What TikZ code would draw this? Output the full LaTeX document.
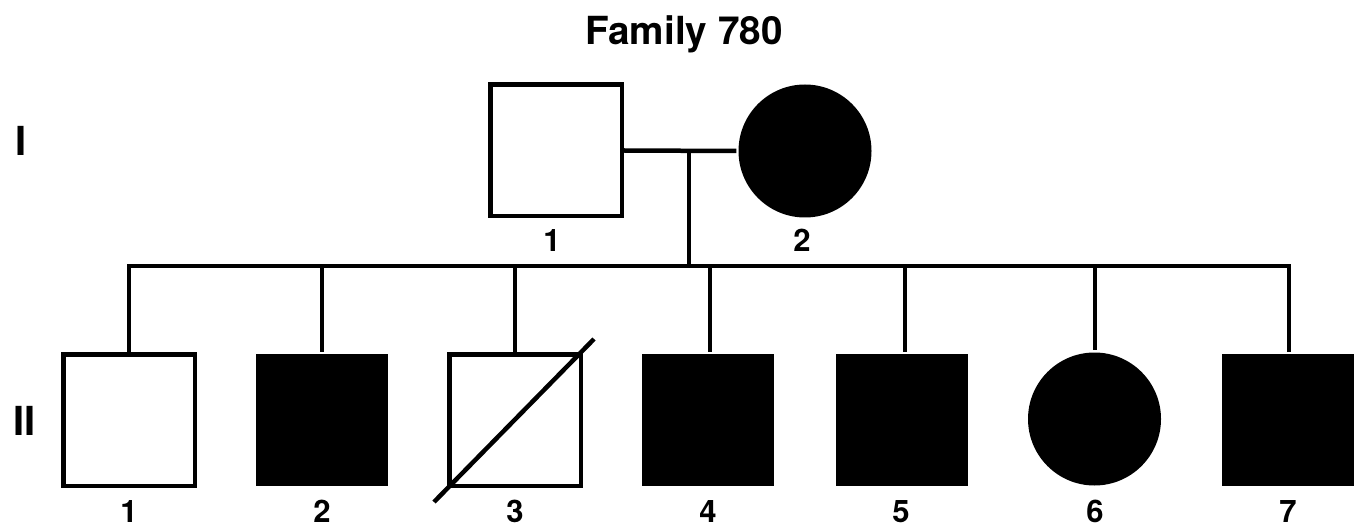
\documentclass[tikz,border=0pt]{standalone}
\usepackage{fontspec}
\setmainfont{TeX Gyre Heros}
\begin{document}
\begin{tikzpicture}[x=1pt,y=-1pt,
  line width=4.5pt,
  male/.style={draw=black,fill=white,rectangle,minimum size=131.5pt,inner sep=0pt,line width=4.5pt},
  maleaff/.style={fill=black,rectangle,minimum size=132pt,inner sep=0pt},
  femaleaff/.style={fill=black,circle,minimum size=133pt,inner sep=0pt},
  lbl/.style={anchor=base,inner sep=0pt,font=\fontsize{31}{31}\selectfont\bfseries},
  gen/.style={anchor=base,inner sep=0pt,font=\fontsize{40}{40}\selectfont\bfseries},
  ttl/.style={anchor=base,inner sep=0pt,font=\fontsize{38.7}{38.7}\selectfont\bfseries}]
\useasboundingbox (0,0) rectangle (1360,529);
\fill[white] (0,0) rectangle (1360,529);

\node[ttl] (title) at (684,45) {Family 780};
\node[gen] (genI) at (21,156) {I};
\node[gen] (genII) at (25,435) {II};

% Generation I
\node[male] (I1) at (556,150.5) {};
\node[femaleaff] (I2) at (805,151) {};
\node[lbl] (lI1) at (552,252) {1};
\node[lbl] (lI2) at (802,252) {2};
\draw (I1.east) -- (I2.west);
\coordinate (mate) at (689,151);
\coordinate (sib) at (689,266);
\draw (mate) -- (sib);

% sibship line
\coordinate (sibL) at (129,266);
\coordinate (sibR) at (1289,266);
\draw[line cap=rect] (sibL) -- (sibR);

% Generation II
\node[male] (II1) at (129,420) {};
\node[maleaff] (II2) at (322,420) {};
\node[male] (II3) at (515,420) {};
\node[maleaff] (II4) at (708,420) {};
\node[maleaff] (II5) at (901.5,420) {};
\node[femaleaff] (II6) at (1094.5,419) {};
\node[maleaff] (II7) at (1288,420) {};

\foreach \n/\x in {1/129,2/322,3/515,4/710,5/905,6/1095,7/1289}{
  \coordinate (d\n) at (\x,266);
  \draw (d\n) -- (d\n |- II\n.north);
}

\coordinate (slashA) at (434,502);
\coordinate (slashB) at (594,339);
\draw (slashA) -- (slashB);

\node[lbl] (lII1) at (129,522) {1};
\node[lbl] (lII2) at (322,522) {2};
\node[lbl] (lII3) at (515,522) {3};
\node[lbl] (lII4) at (708,522) {4};
\node[lbl] (lII5) at (901,522) {5};
\node[lbl] (lII6) at (1095,522) {6};
\node[lbl] (lII7) at (1288,522) {7};
\end{tikzpicture}
\end{document}
